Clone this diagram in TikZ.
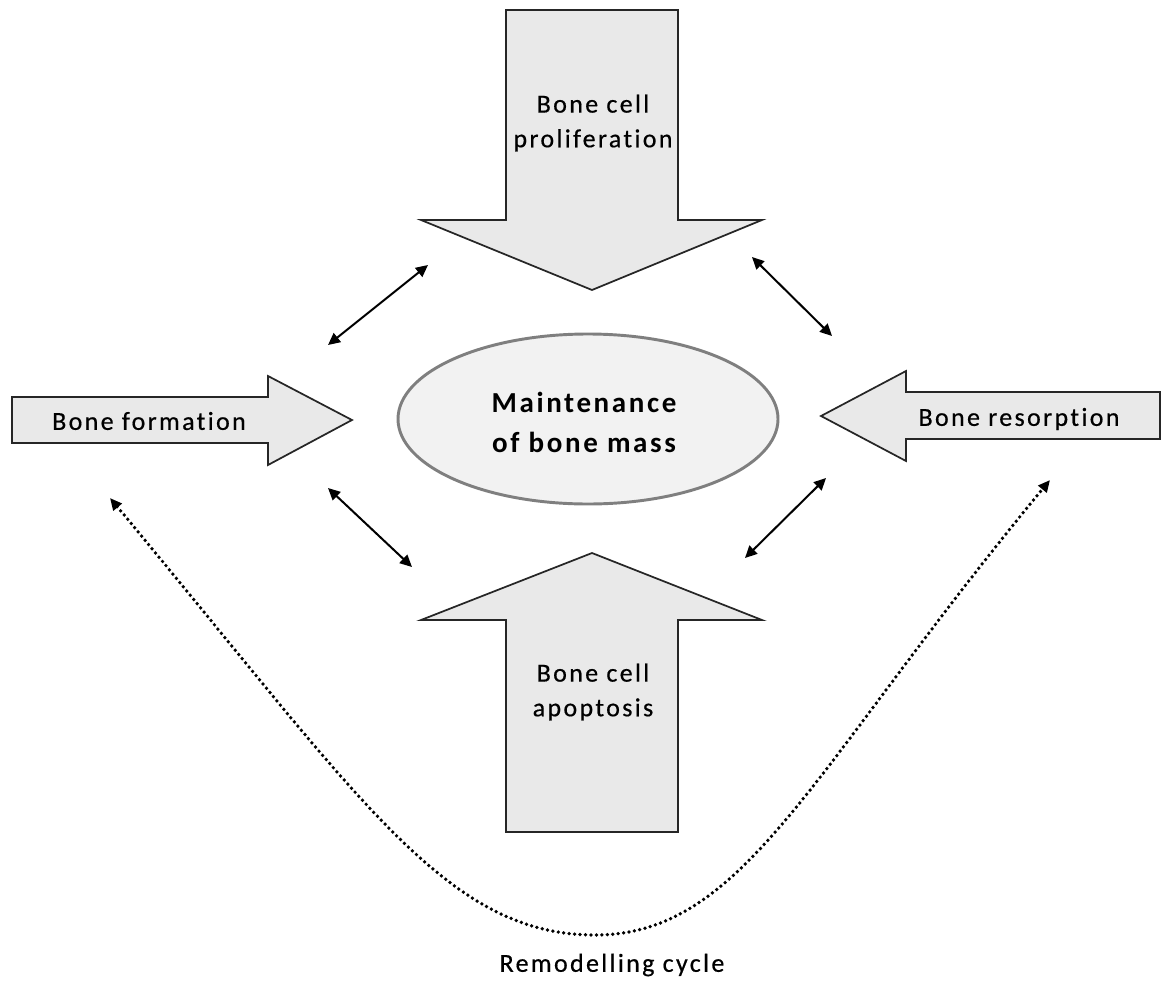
\documentclass[tikz,border=0pt]{standalone}
\usepackage{fontspec}
\setmainfont{Carlito}
\newfontfamily\labelfont[LetterSpace=9,Ligatures=NoCommon,FakeBold=0.5]{Carlito}
\newfontfamily\titlefont[LetterSpace=9,Ligatures=NoCommon]{Carlito Bold}
\usetikzlibrary{arrows.meta,shapes.geometric}
\definecolor{arrowfill}{HTML}{E9E9E9}
\definecolor{ovalfill}{HTML}{F2F2F2}
\definecolor{ovaledge}{HTML}{7F7F7F}
\tikzset{
  bigarrow/.style={draw=black!85, line width=1.3pt, fill=arrowfill, line join=miter},
  oval/.style={draw=ovaledge, line width=2.2pt, fill=ovalfill},
  lbl/.style={font=\labelfont\fontsize{19.5pt}{26pt}\selectfont, align=center, inner sep=0pt},
  link/.style={line width=1.5pt, {Triangle[length=9pt,width=8.5pt]}-{Triangle[length=9pt,width=8.5pt]}},
  cycle line/.style={line width=2.8pt, line cap=round, dash pattern=on 0pt off 4.1pt,
    {Triangle[length=9pt,width=8pt]}-{Triangle[length=9pt,width=8pt]}}
}
\begin{document}
\begin{tikzpicture}[x=0.75pt, y=-0.75pt]
\useasboundingbox (0,0) rectangle (1163,985);

% block arrows pointing at the central oval
\draw[bigarrow] (506,10) -- (678,10) -- (678,220) -- (762,220) -- (592,290)
  -- (421,220) -- (506,220) -- cycle;
\draw[bigarrow] (506,832) -- (678,832) -- (678,620) -- (762,620) -- (592,553)
  -- (421,620) -- (506,620) -- cycle;
\draw[bigarrow] (12,397) -- (268,397) -- (268,376) -- (352,420) -- (268,465)
  -- (268,443) -- (12,443) -- cycle;
\draw[bigarrow] (1160,392) -- (906,392) -- (906,371) -- (821,416) -- (906,461)
  -- (906,439) -- (1160,439) -- cycle;

% central oval
\draw[oval] (588,419) ellipse [x radius=190, y radius=85];
\node[font=\titlefont\fontsize{21.75pt}{30pt}\selectfont, align=center, inner sep=0pt]
  (mass) at (584,422) {Maintenance\\of bone mass};

% labels inside the block arrows
\node[lbl] (prolif) at (593,123) {Bone cell\\proliferation};
\node[lbl] (apopt) at (593,692) {Bone cell\\apoptosis};
\node[lbl] (form) at (149,421) {Bone formation};
\node[lbl] (resorp) at (1019,419) {Bone resorption};

% interaction links
\coordinate (l1a) at (328,345); \coordinate (l1b) at (428,265);
\coordinate (l2a) at (752,257); \coordinate (l2b) at (832,336);
\coordinate (l3a) at (328,488); \coordinate (l3b) at (412,567);
\coordinate (l4a) at (745,558); \coordinate (l4b) at (826,478);
\draw[link] (l1a) -- (l1b);
\draw[link] (l2a) -- (l2b);
\draw[link] (l3a) -- (l3b);
\draw[link] (l4a) -- (l4b);

% remodelling cycle
\coordinate (cycL) at (110,498);
\coordinate (cycB) at (595,935);
\coordinate (cycR) at (1050,480);
\draw[cycle line] (cycL) .. controls (360,798) and (445,935) .. (cycB)
  .. controls (745,935) and (810,770) .. (cycR);
\node[lbl] (cyc) at (612,965) {Remodelling cycle};
\end{tikzpicture}
\end{document}
